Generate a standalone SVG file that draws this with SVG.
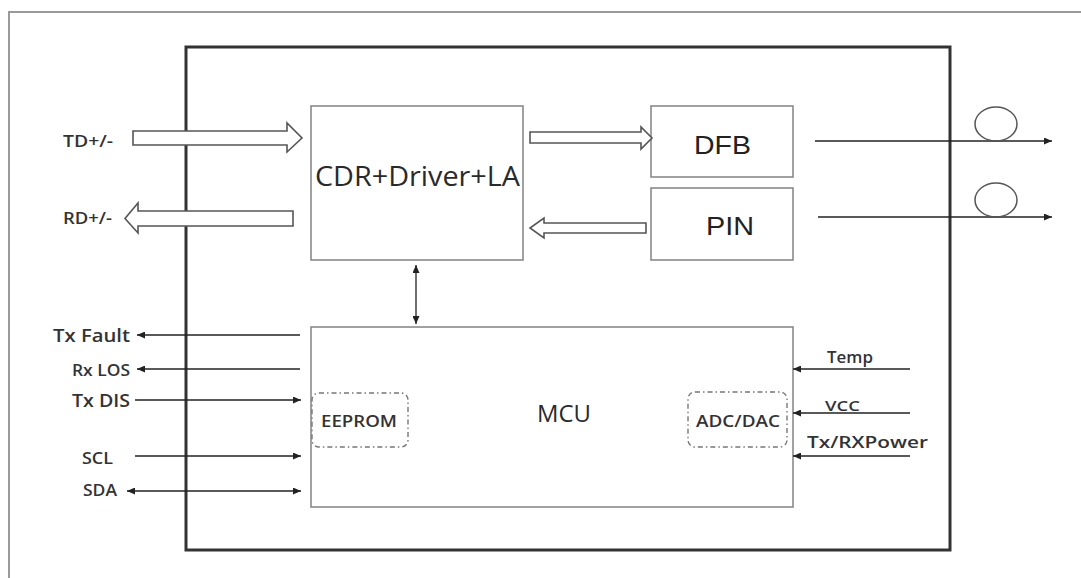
<svg xmlns="http://www.w3.org/2000/svg" width="1081" height="578" viewBox="0 0 1081 578">
<defs>
<style>
.frame{fill:none;stroke:#9a9a9a;stroke-width:2}
.inner{fill:none;stroke:#333;stroke-width:3}
.box{fill:#fff;stroke:#8a8a8a;stroke-width:1.6}
.dash{fill:none;stroke:#777;stroke-width:1.4;stroke-dasharray:5 3 1.5 3}
.hollow{fill:#fff;stroke:#555;stroke-width:1.6;stroke-linejoin:miter}
.ln{fill:none;stroke:#222;stroke-width:1.3}
.fib{fill:none;stroke:#555;stroke-width:1.5}
.lbl{font-family:"Open Sans","DejaVu Sans",sans-serif;fill:#2a2a2a}
.sm{font-weight:600;fill:#333}
.big{font-family:"Liberation Sans",Arial,sans-serif;fill:#222}
</style>
<marker id="ah" viewBox="0 0 8 7" refX="8" refY="3.5" markerWidth="8" markerHeight="7" markerUnits="userSpaceOnUse" orient="auto-start-reverse">
<path d="M0,0 L8,3.5 L0,7 z" fill="#222"/>
</marker>
</defs>
<rect width="1081" height="578" fill="#fff"/>
<rect class="frame" x="9" y="12" width="1090" height="580"/>
<rect class="inner" x="186" y="47" width="764" height="503"/>

<g id="cdr">
<rect class="box" x="311" y="106" width="212" height="154"/>
<text class="lbl" x="315" y="186" font-size="28" textLength="205" lengthAdjust="spacingAndGlyphs">CDR+Driver+LA</text>
</g>
<g id="dfb">
<rect class="box" x="651" y="106" width="142" height="71"/>
<text class="big" x="694" y="154" font-size="25" textLength="57" lengthAdjust="spacingAndGlyphs">DFB</text>
</g>
<g id="pin">
<rect class="box" x="651" y="188" width="142" height="72"/>
<text class="big" x="706" y="235" font-size="25" textLength="48" lengthAdjust="spacingAndGlyphs">PIN</text>
</g>
<g id="mcu">
<rect class="box" x="311" y="327" width="482" height="180"/>
<text class="lbl" x="537" y="422" font-size="23" textLength="54" lengthAdjust="spacingAndGlyphs">MCU</text>
</g>
<g id="eeprom">
<rect class="dash" x="312" y="393" width="96" height="54" rx="7"/>
<text class="lbl sm" x="321" y="427" font-size="17" textLength="76" lengthAdjust="spacingAndGlyphs">EEPROM</text>
</g>
<g id="adcdac">
<rect class="dash" x="688" y="392" width="99" height="55" rx="7"/>
<text class="lbl sm" x="696" y="427" font-size="17" textLength="84" lengthAdjust="spacingAndGlyphs">ADC/DAC</text>
</g>

<g id="labels">
<text class="lbl sm" x="63" y="147" font-size="17" textLength="50" lengthAdjust="spacingAndGlyphs">TD+/-</text>
<text class="lbl sm" x="63" y="224" font-size="17" textLength="49" lengthAdjust="spacingAndGlyphs">RD+/-</text>
<text class="lbl sm" x="53" y="342" font-size="18" textLength="77" lengthAdjust="spacingAndGlyphs">Tx Fault</text>
<text class="lbl sm" x="72" y="376" font-size="17" textLength="58" lengthAdjust="spacingAndGlyphs">Rx LOS</text>
<text class="lbl sm" x="72" y="407" font-size="18" textLength="58" lengthAdjust="spacingAndGlyphs">Tx DIS</text>
<text class="lbl sm" x="82" y="464" font-size="17" textLength="31" lengthAdjust="spacingAndGlyphs">SCL</text>
<text class="lbl sm" x="83" y="496" font-size="17" textLength="34" lengthAdjust="spacingAndGlyphs">SDA</text>
<text class="lbl sm" x="827" y="363" font-size="17" textLength="46" lengthAdjust="spacingAndGlyphs">Temp</text>
<text class="lbl sm" x="825" y="411" font-size="15" textLength="35" lengthAdjust="spacingAndGlyphs">VCC</text>
<text class="lbl sm" x="807" y="448" font-size="17" textLength="121" lengthAdjust="spacingAndGlyphs">Tx/RXPower</text>
</g>

<g id="connectors">
<polygon class="hollow" points="133,131 287,131 287,123 302,138 287,152 287,145 133,145"/>
<polygon class="hollow" points="293,211 138,211 138,203 125,218.5 138,233 138,226 293,226"/>
<polygon class="hollow" points="530,132 641,132 641,127 652,138 641,149 641,143 530,143"/>
<polygon class="hollow" points="646,223 544,223 544,218 530,228 544,238 544,233 646,233"/>

<line class="ln" x1="416" y1="265" x2="416" y2="324" marker-start="url(#ah)" marker-end="url(#ah)"/>

<line class="ln" x1="300" y1="335" x2="137" y2="335" marker-end="url(#ah)"/>
<line class="ln" x1="300" y1="369" x2="137" y2="369" marker-end="url(#ah)"/>
<line class="ln" x1="135" y1="400" x2="301" y2="400" marker-end="url(#ah)"/>
<line class="ln" x1="135" y1="456" x2="301" y2="456" marker-end="url(#ah)"/>
<line class="ln" x1="127" y1="491" x2="301" y2="491" marker-start="url(#ah)" marker-end="url(#ah)"/>

<line class="ln" x1="910" y1="369" x2="793" y2="369" marker-end="url(#ah)"/>
<line class="ln" x1="910" y1="413" x2="793" y2="413" marker-end="url(#ah)"/>
<line class="ln" x1="910" y1="456" x2="793" y2="456" marker-end="url(#ah)"/>

<line class="ln" x1="815" y1="141" x2="1052" y2="141" marker-end="url(#ah)"/>
<line class="ln" x1="818" y1="217" x2="1052" y2="217" marker-end="url(#ah)"/>
<ellipse class="fib" cx="996" cy="124" rx="21" ry="17"/>
<ellipse class="fib" cx="996" cy="200" rx="21" ry="17"/>
</g>
</svg>
